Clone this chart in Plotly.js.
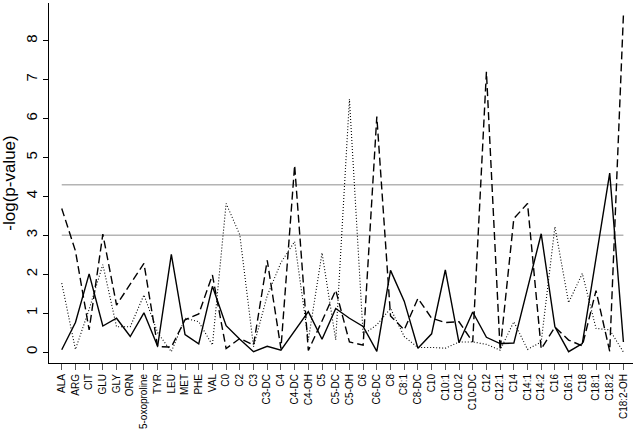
<!DOCTYPE html>
<html>
<head>
<meta charset="utf-8">
<script src="https://cdn.plot.ly/plotly-3.0.1.min.js"></script>
<style>html,body{margin:0;padding:0;background:#fff;}#chart{width:639px;height:432px;}</style>
</head>
<body>
<div id="chart"></div>
<script>
const categories = ["ALA","ARG","CIT","GLU","GLY","ORN","5-oxoproline","TYR","LEU","MET","PHE","VAL","C0","C2","C3","C3-DC","C4","C4-DC","C4-OH","C5","C5-DC","C5-OH","C6","C6-DC","C8","C8:1","C8-DC","C10","C10:1","C10:2","C10-DC","C12","C12:1","C14","C14:1","C14:2","C16","C16:1","C18","C18:1","C18:2","C18:2-OH"];

const solidSeries = [0.06,0.76,2.01,0.67,0.87,0.40,1.01,0.15,2.51,0.45,0.21,1.69,0.68,0.33,0.01,0.15,0.05,0.55,1.04,0.33,1.12,0.87,0.66,0.02,2.10,1.31,0.10,0.47,2.11,0.24,1.03,0.38,0.22,0.23,1.65,3.04,0.65,0.01,0.22,2.41,4.60,0.26];

const dashedSeries = [3.69,2.60,0.57,3.03,1.21,1.75,2.28,0.14,0.13,0.83,0.98,1.98,0.09,0.35,0.18,2.36,0.09,4.80,0.04,0.80,1.59,0.26,0.18,6.05,0.93,0.57,1.38,0.87,0.76,0.78,0.26,7.20,0.05,3.43,3.82,0.08,0.64,0.31,0.16,1.58,0.02,8.66];

const dottedSeries = [1.77,0.07,1.10,2.25,0.65,0.65,1.47,0.50,0.01,0.87,0.78,0.18,3.82,3.01,0.14,1.45,2.30,2.84,0.31,2.55,0.31,6.50,0.45,0.70,1.12,0.40,0.12,0.12,0.10,0.26,0.26,0.20,0.05,0.78,0.07,0.26,3.22,1.27,2.02,0.61,0.57,0.00];

const thresholds = [3.0, 4.3];
const yTicks = [0,1,2,3,4,5,6,7,8];

const xIdx = categories.map((c, i) => i);

const traces = [
  {x: xIdx, y: dottedSeries, type: 'scatter', mode: 'lines', line: {color: '#000', width: 1.1, dash: '1px,2px'}, hoverinfo: 'none'},
  {x: xIdx, y: dashedSeries, type: 'scatter', mode: 'lines', line: {color: '#000', width: 1.4, dash: '8px,4px'}, hoverinfo: 'none'},
  {x: xIdx, y: solidSeries, type: 'scatter', mode: 'lines', line: {color: '#000', width: 1.4}, hoverinfo: 'none'}
];

const shapes = thresholds.map(t => ({
  type: 'line', xref: 'x', yref: 'y', x0: 0, x1: categories.length - 1, y0: t, y1: t,
  line: {color: '#b4b4b4', width: 1.5}, layer: 'below'
}));

const layout = {
  width: 639, height: 432,
  margin: {l: 49, r: 6, t: 3, b: 69},
  paper_bgcolor: '#fff', plot_bgcolor: '#fff',
  showlegend: false,
  font: {family: 'Liberation Sans, Arial, sans-serif', color: '#000'},
  xaxis: {
    range: [-0.93, 41.7],
    tickmode: 'array', tickvals: xIdx, ticktext: categories,
    tickangle: -90, tickfont: {size: 10},
    ticks: 'outside', ticklen: 6, tickcolor: '#555', tickwidth: 1,
    showline: true, linecolor: '#000', linewidth: 1,
    showgrid: false, zeroline: false
  },
  yaxis: {
    range: [-0.28, 8.97],
    tickmode: 'array', tickvals: yTicks, ticktext: yTicks.map(String),
    tickangle: -90, tickfont: {size: 15},
    ticks: 'outside', ticklen: 5, tickcolor: '#000', tickwidth: 1,
    showline: true, linecolor: '#000', linewidth: 1,
    showgrid: false, zeroline: false,
    title: {text: '-log(p-value)', font: {size: 17}, standoff: 6}
  },
  shapes: shapes
};

Plotly.newPlot('chart', traces, layout, {displayModeBar: false, staticPlot: true});
</script>
</body>
</html>
